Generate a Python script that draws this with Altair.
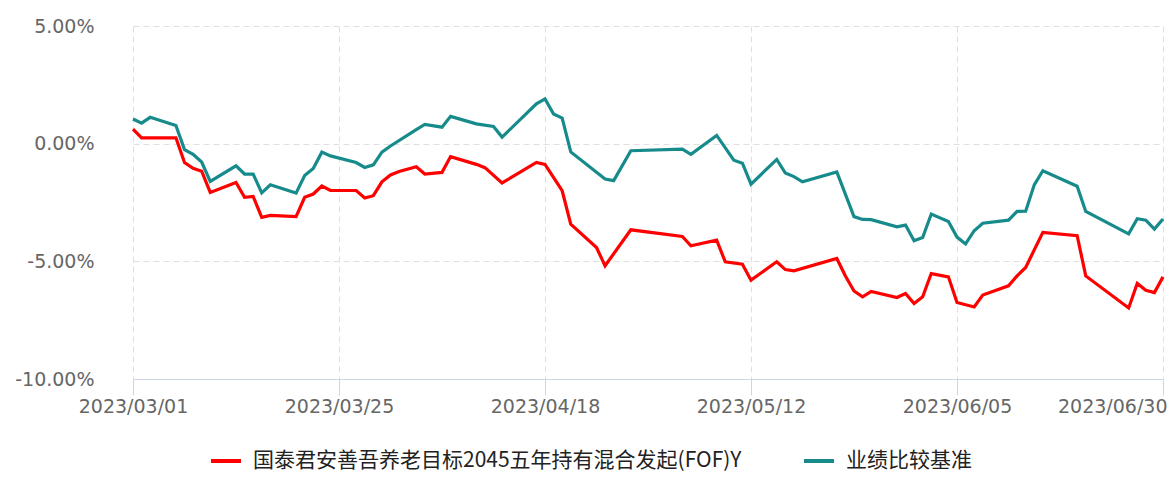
import altair as alt
import pandas as pd

fund_name = "国泰君安善吾养老目标2045五年持有混合发起(FOF)Y"
bench_name = "业绩比较基准"

fund_dates = [
    "2023/03/01", "2023/03/02", "2023/03/06", "2023/03/07", "2023/03/08", "2023/03/09", "2023/03/10",
    "2023/03/13", "2023/03/14", "2023/03/15", "2023/03/16", "2023/03/17", "2023/03/20", "2023/03/21",
    "2023/03/22", "2023/03/23", "2023/03/24", "2023/03/27", "2023/03/28", "2023/03/29", "2023/03/30",
    "2023/03/31", "2023/04/01", "2023/04/03", "2023/04/04", "2023/04/06", "2023/04/07", "2023/04/10",
    "2023/04/11", "2023/04/13", "2023/04/17", "2023/04/18", "2023/04/20", "2023/04/21", "2023/04/24",
    "2023/04/25", "2023/04/28", "2023/05/04", "2023/05/05", "2023/05/08", "2023/05/09", "2023/05/11",
    "2023/05/12", "2023/05/15", "2023/05/16", "2023/05/17", "2023/05/22", "2023/05/23", "2023/05/24",
    "2023/05/25", "2023/05/26", "2023/05/29", "2023/05/30", "2023/05/31", "2023/06/01", "2023/06/02",
    "2023/06/04", "2023/06/05", "2023/06/07", "2023/06/08", "2023/06/11", "2023/06/12", "2023/06/13",
    "2023/06/15", "2023/06/19", "2023/06/20", "2023/06/26", "2023/06/27", "2023/06/28", "2023/06/29",
    "2023/06/30",
]
fund_values = [
    0.62, 0.25, 0.25, -0.80, -1.05, -1.17, -2.07,
    -1.65, -2.28, -2.24, -3.13, -3.05, -3.10, -2.28,
    -2.14, -1.80, -1.99, -1.99, -2.31, -2.21, -1.62,
    -1.33, -1.18, -0.98, -1.29, -1.22, -0.55, -0.88,
    -1.02, -1.67, -0.80, -0.88, -2.00, -3.42, -4.41,
    -5.19, -3.66, -3.94, -4.34, -4.10, -5.02, -5.12,
    -5.80, -5.02, -5.35, -5.40, -4.88, -5.62, -6.26,
    -6.51, -6.28, -6.54, -6.37, -6.79, -6.51, -5.52,
    -5.66, -6.75, -6.94, -6.43, -6.04, -5.62, -5.26,
    -3.77, -3.91, -5.62, -6.98, -5.94, -6.23, -6.33,
    -5.66,
]

bench_dates = [
    "2023/03/01", "2023/03/02", "2023/03/03", "2023/03/06", "2023/03/07", "2023/03/08", "2023/03/09",
    "2023/03/10", "2023/03/13", "2023/03/14", "2023/03/15", "2023/03/16", "2023/03/17", "2023/03/20",
    "2023/03/21", "2023/03/22", "2023/03/23", "2023/03/24", "2023/03/27", "2023/03/28", "2023/03/29",
    "2023/03/30", "2023/03/31", "2023/04/03", "2023/04/04", "2023/04/06", "2023/04/07", "2023/04/10",
    "2023/04/12", "2023/04/13", "2023/04/17", "2023/04/18", "2023/04/19", "2023/04/20", "2023/04/21",
    "2023/04/25", "2023/04/26", "2023/04/28", "2023/05/04", "2023/05/05", "2023/05/08", "2023/05/10",
    "2023/05/11", "2023/05/12", "2023/05/15", "2023/05/16", "2023/05/17", "2023/05/18", "2023/05/22",
    "2023/05/24", "2023/05/25", "2023/05/26", "2023/05/29", "2023/05/30", "2023/05/31", "2023/06/01",
    "2023/06/02", "2023/06/04", "2023/06/05", "2023/06/06", "2023/06/07", "2023/06/08", "2023/06/11",
    "2023/06/12", "2023/06/13", "2023/06/14", "2023/06/15", "2023/06/19", "2023/06/20", "2023/06/26",
    "2023/06/27", "2023/06/28", "2023/06/29", "2023/06/30",
]
bench_values = [
    1.05, 0.87, 1.12, 0.77, -0.25, -0.45, -0.78,
    -1.60, -0.94, -1.29, -1.29, -2.09, -1.75, -2.10,
    -1.35, -1.05, -0.36, -0.52, -0.80, -1.01, -0.90,
    -0.36, -0.10, 0.60, 0.82, 0.70, 1.16, 0.84,
    0.73, 0.28, 1.69, 1.90, 1.26, 1.09, -0.35,
    -1.50, -1.57, -0.30, -0.23, -0.45, 0.35, -0.70,
    -0.83, -1.72, -0.67, -1.25, -1.40, -1.62, -1.20,
    -3.10, -3.22, -3.23, -3.53, -3.46, -4.13, -3.99,
    -2.99, -3.31, -3.97, -4.26, -3.70, -3.38, -3.25,
    -2.88, -2.87, -1.75, -1.15, -1.81, -2.88, -3.83,
    -3.19, -3.25, -3.63, -3.20,
]

x_tick_labels = ["2023/03/01", "2023/03/25", "2023/04/18", "2023/05/12", "2023/06/05", "2023/06/30"]
y_ticks = [-10, -5, 0, 5]
missing_days = ["2023/06/22"]

series_colors = ["#ff0000", "#178b8b"]

# calendar-day category axis (one day absent from the source axis)
days = [d.strftime("%Y/%m/%d") for d in pd.date_range("2023-03-01", "2023-06-30")]
days = [d for d in days if d not in missing_days]

df = pd.DataFrame({
    "date": fund_dates + bench_dates,
    "value": fund_values + bench_values,
    "series": [fund_name] * len(fund_dates) + [bench_name] * len(bench_dates),
})

axis_color = "#ccd6eb"
grid_color = "#e0e0e0"
label_color = "#666666"

x_axis = alt.Axis(
    values=x_tick_labels,
    title=None,
    labelAngle=0,
    labelFont="DejaVu Sans",
    labelFontSize=19,
    labelColor=label_color,
    labelPadding=2,
    labelAlign=alt.condition("datum.value == '2023/06/30'", alt.value("right"), alt.value("center")),
    labelOffset=alt.condition("datum.value == '2023/06/30'", alt.value(4), alt.value(0)),
    domainColor=axis_color,
    domainWidth=1,
    tickColor=axis_color,
    tickSize=16,
    grid=True,
    gridColor=grid_color,
    gridDash=[6, 4],
    gridWidth=1,
)

y_axis = alt.Axis(
    values=y_ticks,
    title=None,
    labelExpr="(datum.value < 0 ? '-' : '') + format(abs(datum.value), '.2f') + '%'",
    labelFont="DejaVu Sans",
    labelFontSize=19,
    labelColor=label_color,
    labelPadding=29,
    domain=False,
    ticks=False,
    grid=True,
    gridColor=grid_color,
    gridDash=[6, 4],
    gridWidth=1,
)

legend = alt.Legend(
    title=None,
    orient="none",
    direction="horizontal",
    legendX=86,
    legendY=418,
    symbolType="stroke",
    symbolSize=900,
    symbolStrokeWidth=4,
    labelFont="Noto Sans CJK SC",
    labelFontSize=21,
    labelColor="#222222",
    labelLimit=1000,
    labelOffset=10,
    columnPadding=54,
    padding=0,
)

chart = alt.Chart(df).mark_line(strokeWidth=3.2).encode(
    x=alt.X(
        "date:O",
        scale=alt.Scale(type="point", domain=days, range=[10, 1040], padding=0),
        axis=x_axis,
    ),
    y=alt.Y(
        "value:Q",
        scale=alt.Scale(domain=[-10, 5], nice=False, zero=False),
        axis=y_axis,
    ),
    color=alt.Color(
        "series:N",
        scale=alt.Scale(domain=[fund_name, bench_name], range=series_colors),
        legend=legend,
    ),
).properties(
    width=1044,
    height=353,
    autosize=alt.AutoSizeParams(type="none"),
    padding={"left": 115, "top": 18, "right": 0, "bottom": 96},
).configure_view(stroke=None)

chart.save("out.html", embed_options={"renderer": "svg", "actions": False})
